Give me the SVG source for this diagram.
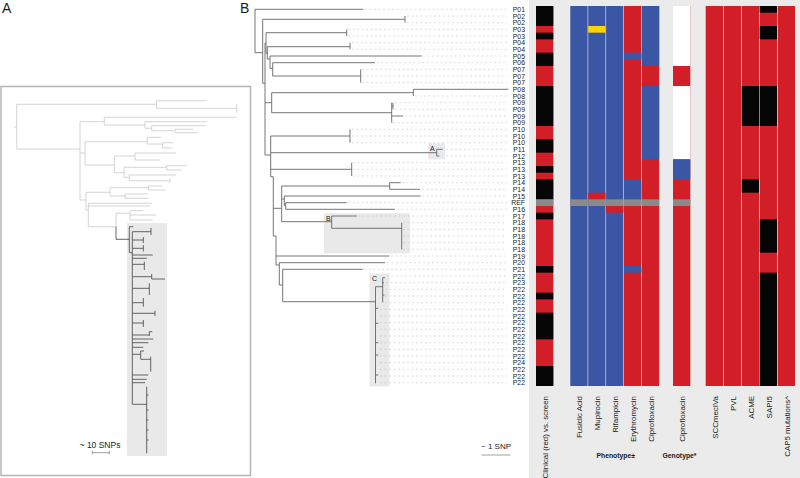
<svg xmlns="http://www.w3.org/2000/svg" width="800" height="478" viewBox="0 0 800 478">
<style>
text{font-family:"Liberation Sans",Arial,sans-serif;fill:#1a1a1a}
.lab{font-size:6.9px;text-anchor:end}
.col{font-size:7.9px;text-anchor:end}
.pl{font-size:14px}
.hl{fill:#e9e9e9}
.tl{fill:none;stroke:#c9c9c9;stroke-width:0.8}
.td{fill:none;stroke:#555;stroke-width:0.9}
.tb{fill:none;stroke:#666;stroke-width:0.9}
.dot{fill:none;stroke:#c8c8c8;stroke-width:0.6;stroke-dasharray:2 2.5}
.r{fill:#d21f27}.b{fill:#3a56a5}.k{fill:#050505}.g{fill:#8a8a8a}.w{fill:#fff}.y{fill:#ffd400}
</style>
<rect width="800" height="478" fill="#fff"/>

<!-- Panel A -->
<g id="panelA">
<rect x="1" y="86.5" width="249.5" height="389" fill="none" stroke="#b5b5b5" stroke-width="1.5"/>
<text class="pl" x="2" y="13">A</text>
<rect class="hl" x="127" y="223" width="40" height="233"/>
<path class="tl" d="M14 127H16.7M16.7 104.3V149M16.7 104.3H156.7M156.7 100.7V108.3M156.7 100.7H206.7M156.7 108.3H236.7M236.7 104V113M16.7 149H80M80 121.7V200M80 121.7H104.3M104.3 117.3V125M104.3 117.3H236.7M104.3 125H145M145 121.7V128.3M145 121.7H207.3M145 128.3H151.7M151.7 125.7V130.7M151.7 125.7H205.7M151.7 130.7H175M175 129.3V132.7M175 129.3H193.3M175 132.7H198.3M80 153H85M85 141.7V165M85 141.7H147.3M147.3 137.3V144M147.3 137.3H161M147.3 144H162.7M162.7 142.7V148M162.7 142.7H173.3M162.7 148H171.7M85 165H114.3M114.3 156V172.7M114.3 156H135M135 153V160M135 153H176M135 160H160M114.3 172.7H124M124 167.3V177.3M124 167.3H166.7M166.7 165.7V170M166.7 165.7H186.7M166.7 170H181.7M124 177.3H129.3M129.3 175V180.7M129.3 175H176M129.3 180.7H170M170 178.3V183M80 200H86M86 192.3V210M86 192.3H110M110 187.7V196M110 187.7H148.3M148.3 186V190M148.3 186H162.3M148.3 190H165.7M110 196H125M125 194V198.3M125 194H148.3M125 198.3H148.3M86 210H88.3M88.3 203.3V226.7M88.3 203.3H151.7M88.3 206H150M88.3 226.7H116M116 213.3V226.7M116 213.3H130M130 210.7V220M130 210.7H143.3M130 215H156M130 220H152.7"/>
<path class="td" d="M116 226.7V239.3M116 239.3H129.3M129.3 226.7V252.7M129.3 226.7H133.3M129.3 252.7H132.3M132.3 231.7V404.3M132.3 231.7H151M151 228V235M132.3 240H143.3M143.3 237V243M132.3 248.3H143.3M143.3 245V251.5M132.3 255H152.7M132.3 258.3H146.7M132.3 264.3H144.3M144.3 261.7V270M132.3 276.7H151.7M151.7 274V279M151.7 279H165M132.3 288.3H149.3M149.3 283.3V295M132.3 302.7H143.3M143.3 298V306.7M132.3 313.3H155M155 310.7V316M132.3 323H143.3M143.3 320V327M132.3 335H149.3M149.3 331.7V336M149.3 331.7H152.3M132.3 339H153.3M132.3 342.7H148.3M132.3 347.3H143.3M132.3 354.3H140.7M140.7 351V359.3M140.7 351H144M140.7 359.3H150.7M150.7 356.7V371.7M132.3 375H148.3M132.3 379.3H146.7M132.3 382.7H145M132.3 404.3H146.7M146.7 386.7V453.3M146.7 395H148.5M146.7 410H148.5M146.7 420H148.5M146.7 430H148.5M146.7 440H148.5"/>
<text x="100" y="448" font-size="8.5" text-anchor="middle">~ 10 SNPs</text>
<path d="M92.3 452.7H109.3M92.3 451V454.4M109.3 451V454.4" stroke="#888" stroke-width="0.8" fill="none"/>
</g>

<!-- Panel B tree -->
<g id="panelB-tree">
<text class="pl" x="240" y="13">B</text>
<rect class="hl" x="428.3" y="143.3" width="16.7" height="16"/>
<rect class="hl" x="324" y="213.3" width="86" height="40"/>
<rect class="hl" x="369.5" y="273.5" width="20" height="113"/>
<text x="430" y="151" font-size="7">A</text>
<text x="326" y="220.5" font-size="7">B</text>
<text x="372" y="281" font-size="7">C</text>
<path class="dot" d="M365 9.33H507M407 16H507M407 22.67H507M348 29.33H507M348 36H507M352 42.67H507M352 49.33H507M423 56H507M377 62.67H507M362 69.33H507M362 76H507M362 82.67H507M415 96H507M395 102.67H507M395 109.33H507M405 116H507M393 122.67H507M352 129.33H507M352 136H507M352 142.67H507M446 149.33H507M446 156H507M353 162.67H507M353 169.33H507M353 176H507M402 182.67H507M422 189.33H507M422 196H507M348 202.67H507M397 209.33H507M358 216H507M403 222.67H507M403 229.33H507M403 236H507M403 242.67H507M403 249.33H507M391 256H507M387 262.67H507M364 269.33H507M387 276H507M386 282.67H507M385 289.33H507M385 296H507M385 302.67H507M380 309.33H507M380 316H507M380 322.67H507M380 329.33H507M380 336H507M380 342.67H507M380 349.33H507M380 356H507M380 362.67H507M380 369.33H507M380 376H507M380 382.67H507"/>
<path class="tb" d="M255 9.3V52.7M255 9.3H363.3M255 52.7H262.7M262.7 19.3V83.3M262.7 19.3H405M405 16V22.7M262.7 83.3H265M265 43V155M265 43H266M266 32.7V53.3M266 32.7H346.7M346.7 29.3V36M266 53.3H267.3M267.3 46.7V59M267.3 46.7H350M350 42.7V49.3M267.3 59H270M270 56V68.3M270 56H421.7M270 68.3H272.7M272.7 62.7V76M272.7 62.7H375M272.7 76H360.7M360.7 69.3V82.7M265 102.7H271.7M271.7 92.7V112.7M271.7 92.7H413.3M413.3 89.3V96M413.3 89.3H508.3M271.7 112.7H391.7M391.7 102.7V122.7M391.7 106H393M393 102.7V109.3M391.7 116H403.3M265 155H270.7M270.7 136V176.7M270.7 136H350M350 129.3V142.7M270.7 152.7H436.7M436.7 149.3V156M436.7 149.3H442.7M436.7 156H439.3M270.7 169.3H351.7M351.7 162.7V176M270.7 176.7H273.3M273.3 176.7V236M273.3 208.3H281.7M281.7 186V221.7M281.7 186H389.7M389.7 182.7V189.3M389.7 182.7H400.7M389.7 189.3H420M281.7 199H284.3M284.3 196V205.7M284.3 196H420.7M284.3 205.7H285.7M285.7 202.7V209.3M285.7 202.7H346.7M285.7 209.3H395M281.7 221.7H331.7M331.7 216V228.3M331.7 216H356.7M331.7 228.3H401.7M401.7 222.7V249.3M273.3 236H276M276 236V265M276 256H389.3M276 265H279.3M279.3 262.7V285M279.3 262.7H385M279.3 285H282.7M282.7 269.3V301.7M282.7 269.3H362.7M282.7 301.7H375.5M375.5 286.7V383.3M375.5 286.7H382.7M382.7 277.7V302.3M382.7 277.7H385M382.7 282.7H384M382.7 295H384.5M375.5 308.3H378.3M375.5 323.3H378.3M375.5 342.7H378.3M375.5 355H378.3M375.5 375H378.3"/>
<text x="496" y="449" font-size="8" text-anchor="middle">~ 1 SNP</text>
<path d="M481.5 455H510.5" stroke="#888" stroke-width="0.8"/>
</g>

<!-- Row labels -->
<g id="row-labels">
<text class="lab" x="525" y="11.8">P01</text>
<text class="lab" x="525" y="18.5">P02</text>
<text class="lab" x="525" y="25.2">P02</text>
<text class="lab" x="525" y="31.8">P03</text>
<text class="lab" x="525" y="38.5">P03</text>
<text class="lab" x="525" y="45.2">P04</text>
<text class="lab" x="525" y="51.8">P04</text>
<text class="lab" x="525" y="58.5">P05</text>
<text class="lab" x="525" y="65.2">P06</text>
<text class="lab" x="525" y="71.8">P07</text>
<text class="lab" x="525" y="78.5">P07</text>
<text class="lab" x="525" y="85.2">P07</text>
<text class="lab" x="525" y="91.8">P08</text>
<text class="lab" x="525" y="98.5">P08</text>
<text class="lab" x="525" y="105.2">P09</text>
<text class="lab" x="525" y="111.8">P09</text>
<text class="lab" x="525" y="118.5">P09</text>
<text class="lab" x="525" y="125.2">P09</text>
<text class="lab" x="525" y="131.8">P10</text>
<text class="lab" x="525" y="138.5">P10</text>
<text class="lab" x="525" y="145.2">P10</text>
<text class="lab" x="525" y="151.8">P11</text>
<text class="lab" x="525" y="158.5">P12</text>
<text class="lab" x="525" y="165.2">P13</text>
<text class="lab" x="525" y="171.8">P13</text>
<text class="lab" x="525" y="178.5">P13</text>
<text class="lab" x="525" y="185.2">P14</text>
<text class="lab" x="525" y="191.8">P14</text>
<text class="lab" x="525" y="198.5">P15</text>
<text class="lab" x="525" y="205.2">REF</text>
<text class="lab" x="525" y="211.8">P16</text>
<text class="lab" x="525" y="218.5">P17</text>
<text class="lab" x="525" y="225.2">P18</text>
<text class="lab" x="525" y="231.8">P18</text>
<text class="lab" x="525" y="238.5">P18</text>
<text class="lab" x="525" y="245.2">P18</text>
<text class="lab" x="525" y="251.8">P18</text>
<text class="lab" x="525" y="258.5">P19</text>
<text class="lab" x="525" y="265.2">P20</text>
<text class="lab" x="525" y="271.8">P21</text>
<text class="lab" x="525" y="278.5">P22</text>
<text class="lab" x="525" y="285.2">P23</text>
<text class="lab" x="525" y="291.8">P22</text>
<text class="lab" x="525" y="298.5">P22</text>
<text class="lab" x="525" y="305.2">P22</text>
<text class="lab" x="525" y="311.8">P22</text>
<text class="lab" x="525" y="318.5">P22</text>
<text class="lab" x="525" y="325.2">P22</text>
<text class="lab" x="525" y="331.8">P22</text>
<text class="lab" x="525" y="338.5">P22</text>
<text class="lab" x="525" y="345.2">P22</text>
<text class="lab" x="525" y="351.8">P22</text>
<text class="lab" x="525" y="358.5">P22</text>
<text class="lab" x="525" y="365.2">P24</text>
<text class="lab" x="525" y="371.8">P22</text>
<text class="lab" x="525" y="378.5">P22</text>
<text class="lab" x="525" y="385.2">P22</text>
</g>

<!-- Heatmap -->
<g id="heatmap">
<rect x="529" y="0" width="271" height="478" fill="#ebebeb"/>
<g id="col-clinical">
<rect class="r" x="536" y="6" width="17.3" height="380"/>
<rect class="k" x="536" y="6" width="17.3" height="20"/>
<rect class="k" x="536" y="32.67" width="17.3" height="6.67"/>
<rect class="k" x="536" y="52.67" width="17.3" height="13.33"/>
<rect class="k" x="536" y="86" width="17.3" height="40"/>
<rect class="k" x="536" y="139.33" width="17.3" height="13.33"/>
<rect class="k" x="536" y="166" width="17.3" height="6.67"/>
<rect class="k" x="536" y="179.33" width="17.3" height="20"/>
<rect class="g" x="536" y="199.33" width="17.3" height="6.67"/>
<rect class="k" x="536" y="212.67" width="17.3" height="6.67"/>
<rect class="k" x="536" y="266" width="17.3" height="6.67"/>
<rect class="k" x="536" y="292.67" width="17.3" height="6.67"/>
<rect class="k" x="536" y="312.67" width="17.3" height="26.67"/>
<rect class="k" x="536" y="366" width="17.3" height="20"/>
</g>
<g id="col-fusidic">
<rect class="b" x="570.3" y="6" width="17.3" height="380"/>
<rect class="g" x="570.3" y="199.33" width="17.3" height="6.67"/>
</g>
<g id="col-mupirocin">
<rect class="b" x="588.2" y="6" width="17.3" height="380"/>
<rect class="y" x="588.2" y="26" width="17.3" height="6.67"/>
<rect class="r" x="588.2" y="192.67" width="17.3" height="6.67"/>
<rect class="g" x="588.2" y="199.33" width="17.3" height="6.67"/>
</g>
<g id="col-rifampicin">
<rect class="b" x="606.1" y="6" width="17.3" height="380"/>
<rect class="g" x="606.1" y="199.33" width="17.3" height="6.67"/>
<rect class="r" x="606.1" y="206" width="17.3" height="6.67"/>
</g>
<g id="col-erythromycin">
<rect class="r" x="624" y="6" width="17.3" height="380"/>
<rect class="b" x="624" y="52.67" width="17.3" height="6.67"/>
<rect class="b" x="624" y="179.33" width="17.3" height="20"/>
<rect class="g" x="624" y="199.33" width="17.3" height="6.67"/>
<rect class="b" x="624" y="266" width="17.3" height="6.67"/>
</g>
<g id="col-cipro-pheno">
<rect class="r" x="641.9" y="6" width="17.3" height="380"/>
<rect class="b" x="641.9" y="6" width="17.3" height="60"/>
<rect class="b" x="641.9" y="86" width="17.3" height="73.33"/>
<rect class="g" x="641.9" y="199.33" width="17.3" height="6.67"/>
</g>
<g id="col-cipro-geno">
<rect class="r" x="673" y="6" width="17.3" height="380"/>
<rect class="w" x="673" y="6" width="17.3" height="60"/>
<rect class="w" x="673" y="86" width="17.3" height="73.33"/>
<rect class="b" x="673" y="159.33" width="17.3" height="20"/>
<rect class="g" x="673" y="199.33" width="17.3" height="6.67"/>
</g>
<g id="col-sccmec"><rect class="r" x="705.7" y="6" width="17.3" height="380"/></g>
<g id="col-pvl"><rect class="r" x="723.7" y="6" width="17.3" height="380"/></g>
<g id="col-acme">
<rect class="r" x="741.7" y="6" width="17.3" height="380"/>
<rect class="k" x="741.7" y="86" width="17.3" height="40"/>
<rect class="k" x="741.7" y="179.33" width="17.3" height="13.33"/>
</g>
<g id="col-sapi5">
<rect class="r" x="759.7" y="6" width="17.3" height="380"/>
<rect class="k" x="759.7" y="6" width="17.3" height="6.67"/>
<rect class="k" x="759.7" y="26" width="17.3" height="13.33"/>
<rect class="k" x="759.7" y="86" width="17.3" height="40"/>
<rect class="k" x="759.7" y="219.33" width="17.3" height="33.33"/>
<rect class="k" x="759.7" y="272.67" width="17.3" height="113.33"/>
</g>
<g id="col-cap5"><rect class="r" x="777.7" y="6" width="17.3" height="380"/></g>
</g>

<!-- Column labels -->
<g id="col-labels">
<text class="col" transform="translate(548,396) rotate(-90)">Clinical (red) vs. screen</text>
<text class="col" transform="translate(582.4,396) rotate(-90)">Fusidic Acid</text>
<text class="col" transform="translate(600.3,396) rotate(-90)">Mupirocin</text>
<text class="col" transform="translate(618.2,396) rotate(-90)">Rifampicin</text>
<text class="col" transform="translate(636.1,396) rotate(-90)">Erythromycin</text>
<text class="col" transform="translate(654,396) rotate(-90)">Ciprofloxacin</text>
<text class="col" transform="translate(685.1,396) rotate(-90)">Ciprofloxacin</text>
<text class="col" transform="translate(717.8,396) rotate(-90)">SCCmecIVa</text>
<text class="col" transform="translate(735.8,396) rotate(-90)">PVL</text>
<text class="col" transform="translate(753.8,396) rotate(-90)">ACME</text>
<text class="col" transform="translate(771.8,396) rotate(-90)">SAPI5</text>
<text class="col" transform="translate(789.8,396) rotate(-90)">CAP5 mutations^</text>
<text x="615.7" y="458" font-size="6.8" font-weight="bold" text-anchor="middle">Phenotype±</text>
<text x="679.5" y="458" font-size="6.8" font-weight="bold" text-anchor="middle">Genotype*</text>
</g>
</svg>
